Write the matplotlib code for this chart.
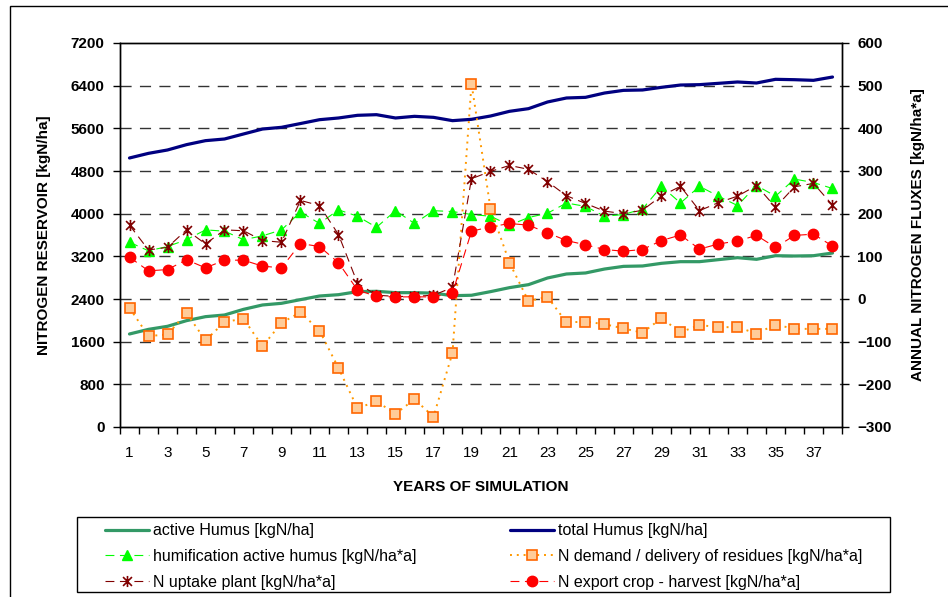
import numpy as np
import matplotlib
matplotlib.use("Agg")
import matplotlib.pyplot as plt
from matplotlib.path import Path
from matplotlib.patches import Rectangle

plt.rcParams['font.family'] = ['Liberation Sans', 'DejaVu Sans']

years = np.arange(1, 39)

# Nitrogen reservoir [kgN/ha] (left axis)
active_humus = [1744, 1831, 1888, 1994, 2069, 2100, 2206, 2288, 2319, 2388,
                2456, 2481, 2538, 2544, 2519, 2519, 2510, 2462, 2470, 2538,
                2613, 2669, 2794, 2869, 2888, 2962, 3012, 3019, 3069, 3100,
                3100, 3138, 3175, 3144, 3212, 3206, 3212, 3262]
total_humus = [5044, 5131, 5194, 5294, 5369, 5400, 5494, 5587, 5619, 5690,
               5762, 5794, 5844, 5856, 5794, 5825, 5806, 5744, 5769, 5831,
               5919, 5969, 6094, 6169, 6181, 6262, 6312, 6319, 6369, 6412,
               6419, 6444, 6469, 6450, 6519, 6512, 6500, 6562]

# Annual nitrogen fluxes [kgN/ha*a] (right axis)
humification = [133, 113, 123, 139, 162, 159, 139, 148, 162, 204,
                177, 209, 194, 168, 207, 177, 207, 205, 198, 194,
                173, 191, 201, 225, 217, 194, 198, 211, 264, 225,
                264, 241, 219, 266, 241, 281, 273, 259]
n_demand = [-21, -87, -83, -33, -97, -54, -46, -111, -56, -31,
            -74, -162, -256, -240, -269, -235, -276, -126, 505, 212,
            85, -5, 5, -55, -53, -59, -69, -79, -45, -78,
            -61, -66, -66, -81, -60, -70, -70, -70]
n_uptake = [173, 115, 121, 162, 129, 162, 160, 137, 133, 231,
            219, 151, 37, 9, 6, 6, 9, 27, 282, 299,
            313, 304, 275, 242, 224, 206, 200, 208, 242, 264,
            207, 226, 241, 266, 215, 263, 271, 220]
n_export = [98, 66, 69, 92, 73, 91, 91, 77, 73, 130,
            123, 85, 21, 6, 5, 5, 5, 14, 159, 169,
            177, 173, 155, 137, 127, 116, 112, 116, 137, 150,
            117, 129, 136, 149, 121, 149, 152, 124]

x_labels = [str(v) for v in range(1, 39, 2)]

# Asterisk: an X crossed by a vertical bar
star_path = Path([(-1, -1), (1, 1), (-1, 1), (1, -1), (0, -1.25), (0, 1.25)],
                 [Path.MOVETO, Path.LINETO, Path.MOVETO, Path.LINETO,
                  Path.MOVETO, Path.LINETO])

W, H = 948, 597
fig = plt.figure(figsize=(W / 100, H / 100), dpi=100)
fig.patches.append(Rectangle((10 / W, -0.1), 1.2, 1 - 6 / H + 0.1, fill=False,
                             edgecolor='black', linewidth=1.0,
                             transform=fig.transFigure, figure=fig))

ax = fig.add_axes([120 / W, 1 - 427 / H, 722 / W, 384 / H])
ax2 = ax.twinx()

ax.set_xlim(0.5, 38.5)
ax.set_ylim(0, 7200)
ax2.set_ylim(-300, 600)
ax.set_yticks(np.arange(0, 7201, 800))
ax2.set_yticks(np.arange(-300, 601, 100))

# Category boundaries carry the tick marks, odd years carry the labels
ax.set_xticks(np.arange(0.5, 39, 1))
ax.set_xticklabels([])
ax.set_xticks(np.arange(1, 39, 2), minor=True)
ax.set_xticklabels(x_labels, minor=True)
ax.tick_params(axis='x', which='major', direction='out', length=5, width=1)
ax.tick_params(axis='x', which='minor', length=0, pad=14, labelsize=11)
ax.tick_params(axis='y', direction='out', length=5, width=1, labelsize=11, pad=6)
ax2.tick_params(axis='y', direction='out', length=5, width=1, labelsize=11, pad=6)
for lab in ax.get_yticklabels() + ax2.get_yticklabels():
    lab.set_fontweight('bold')

for yv in np.arange(800, 7200, 800):
    ax.axhline(yv, color='#333333', linewidth=1.0, linestyle=(0, (8, 6)), zorder=0.5)

for a in (ax, ax2):
    for s in a.spines.values():
        s.set_linewidth(1.0)
        s.set_color('black')

ax.plot(years, active_humus, color='#339966', linewidth=2.3, solid_capstyle='round',
        label='active Humus [kgN/ha]', zorder=3)
ax.plot(years, total_humus, color='#000080', linewidth=2.3, solid_capstyle='round',
        label='total Humus [kgN/ha]', zorder=3)

ax2.plot(years, humification, color='#00FF00', linewidth=0.8, linestyle=(0, (8, 5)),
         marker='^', markersize=7.5, markerfacecolor='#00FF00', markeredgecolor='#00FF00',
         label='humification active humus [kgN/ha*a]', zorder=3)
ax2.plot(years, n_demand, color='#FF9900', linewidth=1.4, linestyle=(0, (1, 2.5)),
         marker='s', markersize=7, markerfacecolor='#FFCC99', markeredgecolor='#FF6600',
         markeredgewidth=1.2, label='N demand / delivery of residues [kgN/ha*a]', zorder=4)
ax2.plot(years, n_uptake, color='#800000', linewidth=0.8, linestyle=(0, (8, 5)),
         marker=star_path, markersize=8, markeredgecolor='#800000', markeredgewidth=1.2,
         label='N uptake plant [kgN/ha*a]', zorder=5)
ax2.plot(years, n_export, color='#FF0000', linewidth=0.8, linestyle=(0, (8, 5)),
         marker='o', markersize=7.5, markerfacecolor='#FF0000', markeredgecolor='#FF0000',
         label='N export crop - harvest [kgN/ha*a]', zorder=6)

ax.set_ylabel('NITROGEN RESERVOIR [kgN/ha]', fontsize=11, fontweight='bold', labelpad=14)
ax2.set_ylabel('ANNUAL NITROGEN FLUXES [kgN/ha*a]', fontsize=11, fontweight='bold',
               rotation=90, labelpad=14)
ax.set_xlabel('YEARS OF SIMULATION', fontsize=11, fontweight='bold', labelpad=14)

h1, l1 = ax.get_legend_handles_labels()
h2, l2 = ax2.get_legend_handles_labels()
handles = [h1[0], h1[1], h2[0], h2[1], h2[2], h2[3]]
labels = [l1[0], l1[1], l2[0], l2[1], l2[2], l2[3]]
# column-major order for a two-column legend
order = [0, 2, 4, 1, 3, 5]

# legend box outline
fig.patches.append(Rectangle((77 / W, 1 - 592 / H), 813 / W, 75 / H, fill=False,
                             edgecolor='black', linewidth=1.0,
                             transform=fig.transFigure, figure=fig))
leg = fig.legend([handles[i] for i in order], [labels[i] for i in order],
                 ncol=2, loc='center', mode='expand',
                 bbox_to_anchor=(105 / W, 1 - 594 / H, 757 / W, 75 / H),
                 fontsize=11.5, frameon=False, numpoints=1,
                 handlelength=2.75, handletextpad=0.25, labelspacing=0.67,
                 borderpad=0, borderaxespad=0)

fig.savefig('out.png', dpi=100)
